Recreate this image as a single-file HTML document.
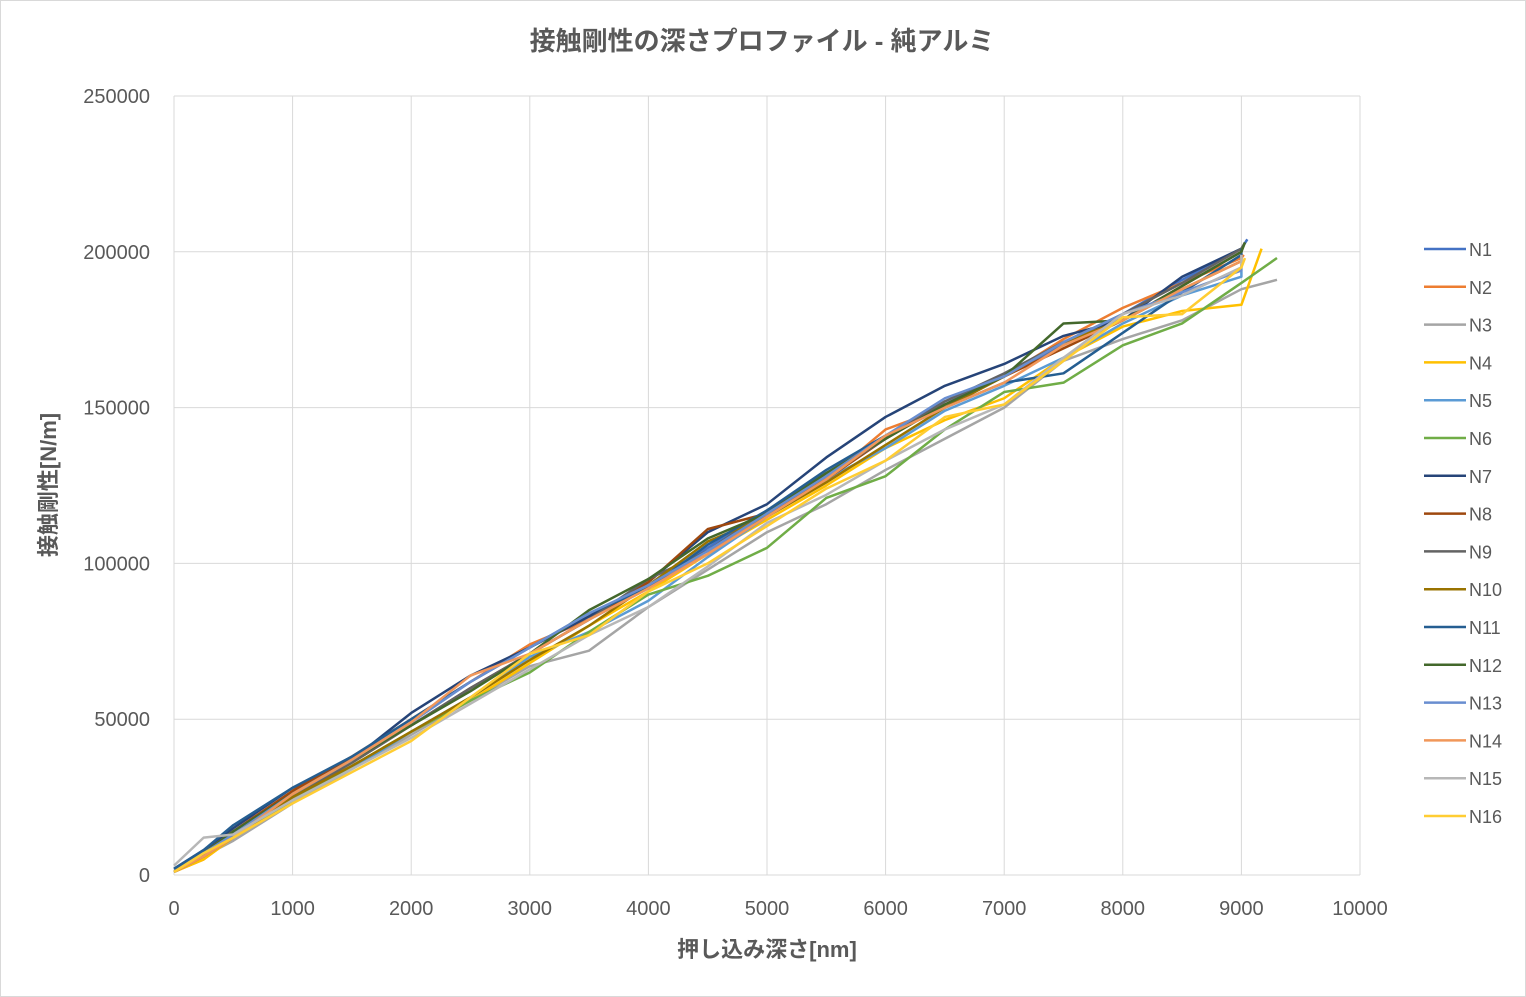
<!DOCTYPE html>
<html><head><meta charset="utf-8"><style>
body{margin:0;background:#fff}
svg{display:block;font-family:"Liberation Sans","Noto Sans CJK JP",sans-serif}
</style></head><body>
<svg id="chart" width="1526" height="997">
<rect x="0.5" y="0.5" width="1525" height="996" fill="#fff" stroke="#d9d9d9"/>
<text x="762" y="50" text-anchor="middle" font-size="26" font-weight="bold" fill="#595959">接触剛性の深さプロファイル - 純アルミ</text>
<g id="grid"></g>
<g id="series"></g>
<g id="legend"></g>
<text x="767" y="957" text-anchor="middle" font-size="22" font-weight="bold" fill="#595959">押し込み深さ[nm]</text>
<text transform="translate(56,485) rotate(-90)" text-anchor="middle" font-size="22" font-weight="bold" fill="#595959">接触剛性[N/m]</text>
</svg>
<script>
const xTicks=[0,1000,2000,3000,4000,5000,6000,7000,8000,9000,10000];
const yTicks=[0,50000,100000,150000,200000,250000];
const depths=[0,250,500,1000,1500,2000,2500,3000,3500,4000,4500,5000,5500,6000,6500,7000,7500,8000,8500,9000];
const seriesNames=["N1","N2","N3","N4","N5","N6","N7","N8","N9","N10","N11","N12","N13","N14","N15","N16"];
const colors=["#4472C4","#ED7D31","#A5A5A5","#FFC000","#5B9BD5","#70AD47","#264478","#9E480E","#636363","#997300","#255E91","#43682B","#698ED0","#F1975A","#B7B7B7","#FFCD33"];
// stiffness values in thousands of N/m at each depth
const s1=[1,7,13,26,37,48,60,71,82,92,105,117,129,141,152,160,170,180,191,201];
const s2=[1,5,12,27,38,50,62,74,82,93,103,116,127,143,150,160,172,182,190,198];
const s3=[2,6,11,23,34,45,56,67,72,86,98,110,119,130,140,150,165,172,178,188];
const s4=[1,5,12,24,35,46,56,68,80,91,103,114,125,137,146,153,166,176,181,183];
const s5=[1,6,12,24,34,46,57,70,78,88,102,115,127,137,149,157,166,177,186,192];
const s6=[1,6,12,24,35,46,56,65,78,90,96,105,121,128,143,155,158,170,177,190];
const s7=[2,8,15,28,37,52,64,73,83,94,110,119,134,147,157,164,173,178,192,201];
const s8=[1,7,14,27,38,48,60,71,82,94,111,116,127,140,151,160,169,178,189,200];
const s9=[1,7,13,25,36,48,60,71,82,95,104,117,128,140,152,161,171,180,190,201];
const s10=[1,6,12,25,35,46,57,69,80,93,107,115,126,138,150,160,171,178,188,197];
const s11=[2,8,16,28,38,50,62,73,84,92,106,117,130,141,150,158,161,174,187,199];
const s12=[1,7,14,26,37,48,59,71,85,95,108,116,129,140,151,160,177,178,189,200];
const s13=[1,7,13,26,37,49,62,73,84,93,104,116,128,141,153,160,171,180,187,194];
const s14=[1,6,12,26,37,49,64,71,82,92,103,115,127,141,150,158,170,178,188,197];
const s15=[3,12,13,24,34,44,55,66,77,86,99,113,122,133,143,151,166,180,186,195];
const s16=[1,7,12,23,33,43,57,71,77,91,100,112,124,133,147,151,165,179,180,195];
const endX=[9050,9020,9300,9170,9000,9300,9020,9000,9030,9000,9000,9030,9000,9000,9000,9030];
const endY=[204,199,191,201,194,198,202,201,203,198,201,203,196,199,199,198];
const allSeries=[s1,s2,s3,s4,s5,s6,s7,s8,s9,s10,s11,s12,s13,s14,s15,s16];
const NS="http://www.w3.org/2000/svg";
const X0=174,X1=1360,Y0=875,Y1=96;
const xs=v=>X0+(v/10000)*(X1-X0);
const ys=v=>Y0-(v/250000)*(Y0-Y1);
const grid=document.getElementById('grid');
function mk(tag,attrs,parent){const e=document.createElementNS(NS,tag);for(const k in attrs)e.setAttribute(k,attrs[k]);parent.appendChild(e);return e;}
xTicks.forEach(t=>{
  const l=mk('line',{x1:xs(t),x2:xs(t),y1:Y1,y2:Y0,stroke:'#d9d9d9','stroke-width':1},grid);
  
  
  const tx=mk('text',{x:xs(t),y:915,'text-anchor':'middle','font-size':20,fill:'#595959'},grid);
  tx.textContent=t;
  
  
});
yTicks.forEach(t=>{
  const l=mk('line',{x1:X0,x2:X1,y1:ys(t),y2:ys(t),stroke:'#d9d9d9','stroke-width':1},grid);
  
  
  const tx=mk('text',{x:150,y:ys(t)+7,'text-anchor':'end','font-size':20,fill:'#595959'},grid);
  tx.textContent=t;
  
  
});
const sg=document.getElementById('series');
const lg=document.getElementById('legend');
allSeries.forEach((s,i)=>{
  let pts=depths.map((d,j)=>xs(d)+','+ys(s[j]*1000));
  pts.push(xs(endX[i])+','+ys(endY[i]*1000));
  const p=mk('polyline',{points:pts.join(' '),fill:'none',stroke:colors[i],'stroke-width':2.5,'stroke-linejoin':'round'},sg);
  
  
  const y=249+i*37.8;
  const ll=mk('line',{x1:1424,x2:1466,y1:y,y2:y,stroke:colors[i],'stroke-width':2.5},lg);
  
  
  const lt=mk('text',{x:1469,y:y+7,'font-size':18,fill:'#595959'},lg);
  lt.textContent=seriesNames[i];
  
  
});
</script>
</body></html>
